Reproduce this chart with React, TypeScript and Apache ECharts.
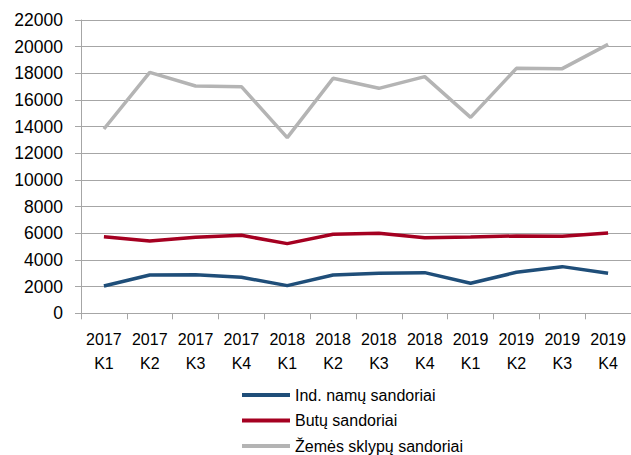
import React, { useEffect, useRef } from "react";
import * as echarts from "echarts";

const categories = [
  "2017\nK1", "2017\nK2", "2017\nK3", "2017\nK4",
  "2018\nK1", "2018\nK2", "2018\nK3", "2018\nK4",
  "2019\nK1", "2019\nK2", "2019\nK3", "2019\nK4",
];
const indNamu = [2050, 2875, 2900, 2700, 2075, 2875, 3000, 3050, 2250, 3075, 3500, 3000];
const butu = [5750, 5425, 5700, 5850, 5225, 5925, 6000, 5675, 5725, 5800, 5775, 6025];
const zemes = [13825, 18075, 17050, 17000, 13175, 17625, 16875, 17750, 14700, 18375, 18350, 20175];
const seriesNames = ["Ind. namų sandoriai", "Butų sandoriai", "Žemės sklypų sandoriai"];
const colors = ["#1F4E79", "#A50021", "#B4B4B4"];

export default function App() {
  const ref = useRef<HTMLDivElement>(null);
  useEffect(() => {
    if (!ref.current) return;
    const chart = echarts.init(ref.current, null, { renderer: "svg" });
    const font = "'Liberation Sans', Arial, sans-serif";
    const datasets = [indNamu, butu, zemes];
    chart.setOption({
      animation: false,
      textStyle: { fontFamily: font, color: "#000" },
      grid: { left: 81, top: 20, width: 552, height: 293.3, containLabel: false },
      legend: {
        orient: "vertical",
        left: 242,
        top: 386.5,
        height: 90,
        padding: 0,
        itemWidth: 48,
        itemHeight: 4,
        itemGap: 8.5,
        icon: "rect",
        textStyle: { fontSize: 16, color: "#000", fontFamily: font, lineHeight: 17 },
        data: seriesNames,
      },
      xAxis: {
        type: "category",
        data: categories,
        boundaryGap: true,
        axisLine: { lineStyle: { color: "#A6A6A6", width: 1 } },
        axisTick: { show: true, length: 6, alignWithLabel: false, lineStyle: { color: "#A6A6A6" } },
        axisLabel: {
          interval: 0,
          margin: 14,
          fontSize: 16,
          lineHeight: 24,
          color: "#000",
          fontFamily: font,
        },
        splitLine: { show: false },
      },
      yAxis: {
        type: "value",
        min: 0,
        max: 22000,
        interval: 2000,
        axisLine: { show: true, lineStyle: { color: "#A6A6A6", width: 1 } },
        axisTick: { show: true, length: 6, lineStyle: { color: "#A6A6A6" } },
        axisLabel: {
          margin: 18,
          fontSize: 17.5,
          color: "#000",
          fontFamily: font,
          formatter: (v: number) => String(v),
        },
        splitLine: { show: true, lineStyle: { color: "#A6A6A6", width: 1 } },
      },
      series: seriesNames.map((name, i) => ({
        name,
        type: "line",
        data: datasets[i],
        showSymbol: false,
        symbol: "none",
        color: colors[i],
        lineStyle: { color: colors[i], width: 3.5 },
        itemStyle: { color: colors[i] },
      })),
    });
    return () => chart.dispose();
  }, []);
  return (
    <div
      ref={ref}
      style={{ position: "absolute", left: 0, top: 0, width: 631, height: 455, background: "#fff" }}
    />
  );
}
